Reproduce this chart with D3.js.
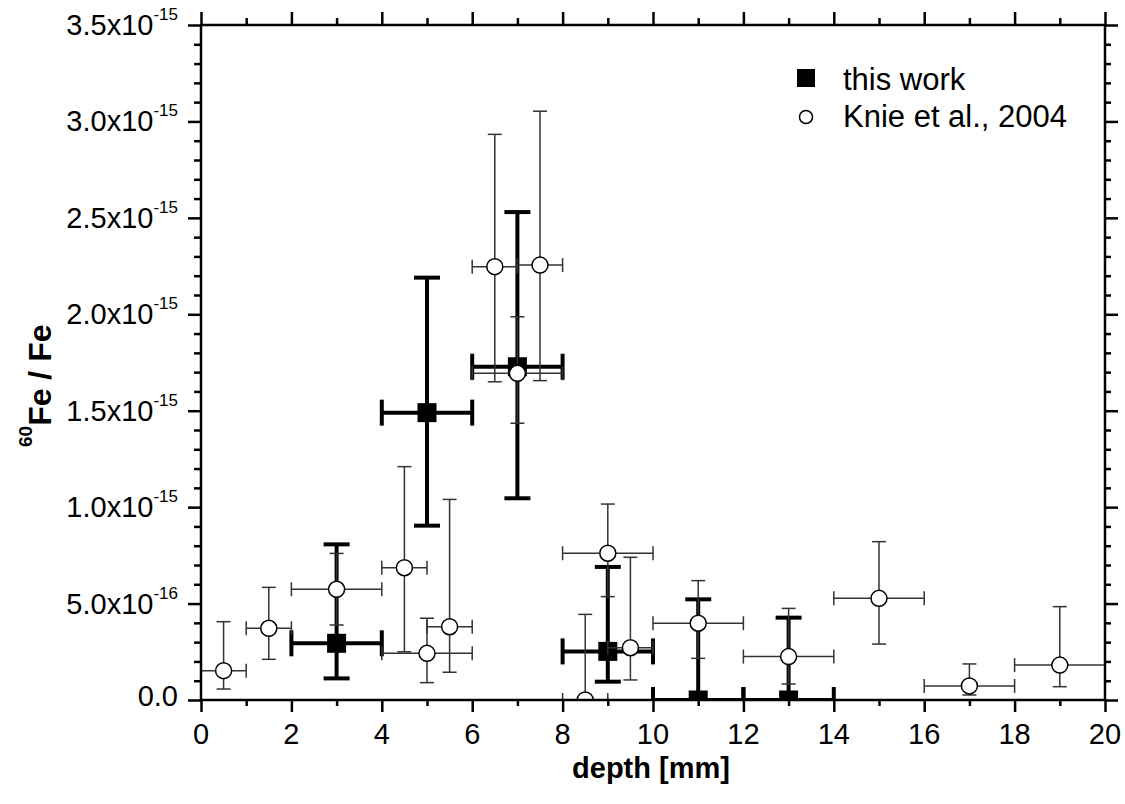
<!DOCTYPE html>
<html>
<head>
<meta charset="utf-8">
<script src="https://cdn.jsdelivr.net/npm/d3@7"></script>
<style>
  body { margin: 0; background: #fff; }
  text { font-family: "Liberation Sans", Arial, sans-serif; fill: #000; }
</style>
</head>
<body>
<div id="chart"></div>
<script>
// this work (values in units of 1e-15)
var workX = [3, 5, 7, 9, 11, 13];
var workY = [0.294, 1.49, 1.728, 0.252, 0.0, 0.0];
var workYLo = [0.112, 0.904, 1.046, 0.095, 0.0, 0.0];
var workYHi = [0.807, 2.19, 2.53, 0.69, 0.522, 0.427];
var workXLo = [2, 4, 6, 8, 10, 12];
var workXHi = [4, 6, 8, 10, 12, 14];

// Knie et al., 2004 (values in units of 1e-15)
var knieX = [0.5, 1.5, 3, 4.5, 5, 5.5, 6.5, 7, 7.5, 8.5, 9, 9.5, 11, 13, 15, 17, 19];
var knieY = [0.152, 0.372, 0.574, 0.686, 0.242, 0.38, 2.247, 1.694, 2.255, 0.0, 0.761, 0.271, 0.398, 0.225, 0.527, 0.073, 0.181];
var knieYLo = [0.057, 0.211, 0.389, 0.25, 0.09, 0.144, 1.65, 1.435, 1.656, 0.0, 0.536, 0.104, 0.216, 0.083, 0.29, 0.026, 0.069];
var knieYHi = [0.406, 0.584, 0.76, 1.21, 0.424, 1.04, 2.933, 1.987, 3.053, 0.444, 1.016, 0.74, 0.619, 0.475, 0.821, 0.187, 0.484];
var knieXLo = [0, 1, 2, 4, 4, 5, 6, 6, 7, 8, 8, 9, 10, 12, 14, 16, 18];
var knieXHi = [1, 2, 4, 5, 6, 6, 7, 8, 8, 9, 10, 10, 12, 14, 16, 18, 20];

// tick labels
var xTicks = [0, 2, 4, 6, 8, 10, 12, 14, 16, 18, 20];
var yTicks = [0, 0.5, 1.0, 1.5, 2.0, 2.5, 3.0, 3.5];
var yTickMant = ["0.0", "5.0x10", "1.0x10", "1.5x10", "2.0x10", "2.5x10", "3.0x10", "3.5x10"];
var yTickExp = ["", "-16", "-15", "-15", "-15", "-15", "-15", "-15"];

var legendNames = ["this work", "Knie et al., 2004"];

var margin = { top: 25, right: 20, bottom: 104, left: 201 },
    width = 1125,
    height = 804,
    w = width - margin.left - margin.right,
    h = height - margin.top - margin.bottom;

var svg = d3.select("#chart")
    .append("svg")
    .attr("width", width)
    .attr("height", height);

var x = d3.scaleLinear().domain([0, 20]).range([margin.left, margin.left + w]);
var y = d3.scaleLinear().domain([0, 3.5]).range([margin.top + h, margin.top]);

svg.append("clipPath").attr("id", "plot")
    .append("rect")
    .attr("x", margin.left).attr("y", margin.top)
    .attr("width", w).attr("height", h);

function rows(xs, ys, ylo, yhi, xlo, xhi) {
    return xs.map(function (v, i) {
        return { x: v, y: ys[i], ylo: ylo[i], yhi: yhi[i], xlo: xlo[i], xhi: xhi[i] };
    });
}

function errorBars(g, data, color, sw, cap) {
    var e = g.selectAll("g.err").data(data).enter().append("g")
        .attr("stroke", color).attr("stroke-width", sw).attr("fill", "none");
    e.append("line")
        .attr("x1", function (d) { return x(d.x) }).attr("x2", function (d) { return x(d.x) })
        .attr("y1", function (d) { return y(d.ylo) }).attr("y2", function (d) { return y(d.yhi) });
    e.append("line")
        .attr("x1", function (d) { return x(d.xlo) }).attr("x2", function (d) { return x(d.xhi) })
        .attr("y1", function (d) { return y(d.y) }).attr("y2", function (d) { return y(d.y) });
    // caps
    ["ylo", "yhi"].forEach(function (k) {
        e.filter(function (d) { return d[k] !== d.y })
            .append("line")
            .attr("x1", function (d) { return x(d.x) - cap }).attr("x2", function (d) { return x(d.x) + cap })
            .attr("y1", function (d) { return y(d[k]) }).attr("y2", function (d) { return y(d[k]) });
    });
    ["xlo", "xhi"].forEach(function (k) {
        e.append("line")
            .attr("x1", function (d) { return x(d[k]) }).attr("x2", function (d) { return x(d[k]) })
            .attr("y1", function (d) { return y(d.y) - cap }).attr("y2", function (d) { return y(d.y) + cap });
    });
}

var plot = svg.append("g").attr("clip-path", "url(#plot)");

var work = rows(workX, workY, workYLo, workYHi, workXLo, workXHi);
var knie = rows(knieX, knieY, knieYLo, knieYHi, knieXLo, knieXHi);

var gw = plot.append("g");
errorBars(gw, work, "#000", 4, 13);
gw.selectAll("rect.pt").data(work).enter().append("rect")
    .attr("x", function (d) { return x(d.x) - 9.5 })
    .attr("y", function (d) { return y(d.y) - 9.5 })
    .attr("width", 19).attr("height", 19)
    .attr("fill", "#000");

var gk = plot.append("g");
errorBars(gk, knie, "#333", 1.5, 7);
gk.selectAll("circle.pt").data(knie).enter().append("circle")
    .attr("cx", function (d) { return x(d.x) })
    .attr("cy", function (d) { return y(d.y) })
    .attr("r", 8)
    .attr("fill", "#fff")
    .attr("stroke", "#000")
    .attr("stroke-width", 1.5);

// axes
var minorX = d3.range(1, 20, 2);
var minorY = d3.range(0, 3.51, 0.1).filter(function (v) { return Math.abs(v * 2 - Math.round(v * 2)) > 0.01 });

function ax(axisFn, scale, vals, size, tr) {
    svg.append("g")
        .attr("transform", tr)
        .call(axisFn(scale).tickValues(vals).tickSize(size).tickFormat(""))
        .call(function (g) { g.select(".domain").remove() })
        .selectAll("line").attr("stroke", "#000").attr("stroke-width", 2.5);
}
var bottomY = margin.top + h, rightX = margin.left + w;
ax(d3.axisBottom, x, xTicks, 12, "translate(0," + bottomY + ")");
ax(d3.axisBottom, x, minorX, 6, "translate(0," + bottomY + ")");
ax(d3.axisBottom, x, xTicks, -13, "translate(0," + margin.top + ")");
ax(d3.axisBottom, x, minorX, -7, "translate(0," + margin.top + ")");
ax(d3.axisLeft, y, yTicks, 13, "translate(" + margin.left + ",0)");
ax(d3.axisLeft, y, minorY, 7, "translate(" + margin.left + ",0)");
ax(d3.axisLeft, y, yTicks, -13, "translate(" + rightX + ",0)");
ax(d3.axisLeft, y, minorY, -6, "translate(" + rightX + ",0)");

svg.append("rect")
    .attr("x", margin.left).attr("y", margin.top)
    .attr("width", w).attr("height", h)
    .attr("fill", "none").attr("stroke", "#000").attr("stroke-width", 2.5);

// tick labels
svg.append("g").selectAll("text").data(xTicks).enter().append("text")
    .attr("x", function (d) { return x(d) })
    .attr("y", bottomY + 44)
    .attr("text-anchor", "middle")
    .attr("font-size", 29)
    .text(function (d) { return d });

var yl = svg.append("g").selectAll("text").data(yTicks).enter().append("text")
    .attr("x", 178)
    .attr("y", function (d, i) { return y(d) + (i === 0 ? 6 : 10) })
    .attr("text-anchor", "end")
    .attr("font-size", 29);
yl.append("tspan").text(function (d, i) { return yTickMant[i] });
yl.append("tspan").attr("dy", -15).attr("font-size", 17).text(function (d, i) { return yTickExp[i] });

// axis titles
svg.append("text")
    .attr("x", 651).attr("y", 778)
    .attr("text-anchor", "middle")
    .attr("font-size", 29).attr("font-weight", "bold")
    .text("depth [mm]");

var yt = svg.append("text")
    .attr("transform", "translate(51,447) rotate(-90)")
    .attr("font-weight", "bold");
yt.append("tspan").attr("font-size", 19).attr("dy", -19).text("60");
yt.append("tspan").attr("font-size", 32).attr("dy", 19).text("Fe / Fe");

// legend
var lg = svg.append("g");
lg.append("rect").attr("x", 797).attr("y", 69).attr("width", 18).attr("height", 18).attr("fill", "#000");
lg.append("circle").attr("cx", 806).attr("cy", 117).attr("r", 6.5)
    .attr("fill", "#fff").attr("stroke", "#000").attr("stroke-width", 1.5);
lg.selectAll("text").data(legendNames).enter().append("text")
    .attr("x", 843)
    .attr("y", function (d, i) { return 90 + i * 37 })
    .attr("font-size", 31)
    .text(function (d) { return d });
</script>
</body>
</html>
